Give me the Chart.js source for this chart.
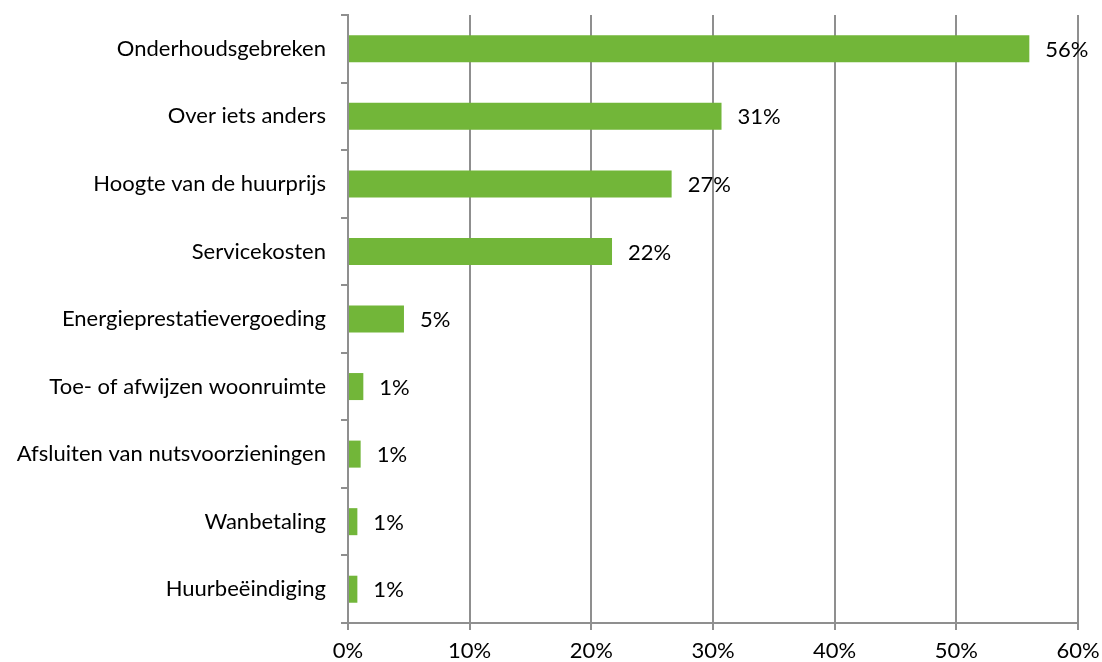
<!DOCTYPE html>
<html>
<head>
<meta charset="utf-8">
<script src="https://cdn.jsdelivr.net/npm/chart.js@4/dist/chart.umd.min.js"></script>
<style>
  html, body { margin: 0; padding: 0; background: #fff; }
  #wrap { width: 1102px; height: 662px; }
</style>
</head>
<body>
<div id="wrap"><canvas id="chart" width="1102" height="662"></canvas></div>
<script>
const categories = [
  "Onderhoudsgebreken",
  "Over iets anders",
  "Hoogte van de huurprijs",
  "Servicekosten",
  "Energieprestatievergoeding",
  "Toe- of afwijzen woonruimte",
  "Afsluiten van nutsvoorzieningen",
  "Wanbetaling",
  "Huurbeëindiging",
];
// share of complaints, in percent
const shares = [56.0, 30.7, 26.6, 21.7, 4.6, 1.26, 1.04, 0.77, 0.77];
const xTicks = [0, 10, 20, 30, 40, 50, 60];

const green = "#72b639";
const gridGray = "#8f8f8f";
const fontFamily = "Lato, 'Open Sans', sans-serif";
const fontSize = 22;

// draws the value labels to the right of the bars
const valueLabels = {
  id: "valueLabels",
  afterDatasetsDraw(chart) {
    const ctx = chart.ctx;
    const meta = chart.getDatasetMeta(0);
    ctx.save();
    ctx.font = `${fontSize}px ${fontFamily}`;
    ctx.fillStyle = "#000";
    ctx.textAlign = "left";
    ctx.textBaseline = "middle";
    meta.data.forEach((bar, i) => {
      ctx.fillText(Math.round(shares[i]) + "%", bar.x + 16, bar.y + 1);
    });
    ctx.restore();
  },
};

const ctx = document.getElementById("chart").getContext("2d");
new Chart(ctx, {
  type: "bar",
  data: {
    labels: categories,
    datasets: [
      {
        data: shares,
        backgroundColor: green,
        borderWidth: 0,
        barPercentage: 0.4,
        categoryPercentage: 1,
      },
    ],
  },
  options: {
    indexAxis: "y",
    responsive: false,
    animation: false,
    layout: { padding: { top: 15, right: 24, left: 0, bottom: 0 } },
    plugins: {
      legend: { display: false },
      tooltip: { enabled: false },
    },
    scales: {
      x: {
        min: 0,
        max: 60,
        afterBuildTicks: (scale) => {
          scale.ticks = xTicks.map((v) => ({ value: v }));
        },
        afterFit: (scale) => {
          scale.height = 39;
          scale.paddingLeft = 0;
          scale.paddingRight = 0;
        },
        grid: {
          color: gridGray,
          lineWidth: 2,
          tickLength: 7,
          drawTicks: true,
        },
        border: { color: gridGray, width: 2 },
        ticks: {
          callback: (v) => v + "%",
          color: "#000",
          font: { family: fontFamily, size: fontSize },
          padding: 8,
          maxRotation: 0,
        },
      },
      y: {
        afterFit: (scale) => {
          scale.width = 348;
          scale.paddingTop = 0;
          scale.paddingBottom = 0;
        },
        grid: {
          drawOnChartArea: false,
          color: gridGray,
          lineWidth: 2,
          tickLength: 7,
          offset: true,
        },
        border: { color: gridGray, width: 2 },
        ticks: {
          color: "#000",
          font: { family: fontFamily, size: fontSize },
          padding: 15,
        },
      },
    },
  },
  plugins: [valueLabels],
});
</script>
</body>
</html>
